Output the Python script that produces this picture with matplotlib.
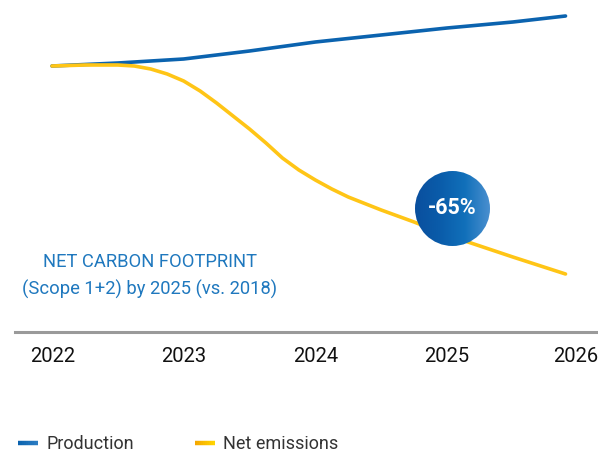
import numpy as np
import matplotlib
matplotlib.use("Agg")
import matplotlib.pyplot as plt
from matplotlib.patches import Circle
from matplotlib.lines import Line2D
from matplotlib.transforms import ScaledTranslation
from matplotlib.colors import LinearSegmentedColormap

# ---- data (index scale) ----
years = [2022, 2023, 2024, 2025, 2026]
year_labels = ["2022", "2023", "2024", "2025", "2026"]

prod_x = [2022, 2022.5, 2023, 2023.5, 2024, 2024.5, 2025, 2025.5, 2025.9]
prod_y = [266, 269, 273, 281, 290, 297, 304, 310, 316]

emis_x = [2022, 2022.25, 2022.5, 2022.625, 2022.75, 2022.875, 2023, 2023.125, 2023.25,
          2023.375, 2023.5, 2023.625, 2023.75, 2023.875, 2024, 2024.125, 2024.25,
          2024.5, 2024.75, 2025, 2025.25, 2025.5, 2025.9]
emis_y = [266, 267, 267, 266, 263, 258, 251, 241, 229, 216, 203, 189, 174, 162, 152,
          143, 135, 122, 110, 97, 86, 75, 58]

badge_text = "-65%"
note_lines = ["NET CARBON FOOTPRINT", "(Scope 1+2) by 2025 (vs. 2018)"]
series_names = ["Production", "Net emissions"]

W, H = 598, 456
plt.rcParams['font.family'] = ['Roboto', 'DejaVu Sans']
fig = plt.figure(figsize=(W / 100, H / 100), dpi=100)

def fx(px):
    return px / W

def fy(py):
    return 1 - py / H

ax_left, ax_right, ax_bottom, ax_top = 15, 596, 333, 0
ax = fig.add_axes([fx(ax_left), fy(ax_bottom), (ax_right - ax_left) / W, (ax_bottom - ax_top) / H])
ppy = 131.67
ax.set_xlim(2022 - (52 - ax_left) / ppy, 2022 + (ax_right - 52) / ppy)
ax.set_ylim(0, ax_bottom - ax_top)

blue = "#0b63af"
yellow = "#ffc516"
ax.plot(prod_x, prod_y, color=blue, lw=2.6, solid_capstyle='round')
ax.plot(emis_x, emis_y, color=yellow, lw=2.6, solid_capstyle='round')

for s in ["top", "right", "left"]:
    ax.spines[s].set_visible(False)
ax.spines["bottom"].set_color("#9a9a9a")
ax.spines["bottom"].set_linewidth(2.2)
ax.set_yticks([])
ax.set_xticks(years)
ax.set_xticklabels(year_labels, fontsize=14.5, fontweight='normal', color="#111111")
ax.tick_params(axis='x', length=0, pad=10)
offsets = [1, 0, 0, 0, -3]
for lab, off in zip(ax.get_xticklabels(), offsets):
    lab.set_transform(lab.get_transform() + ScaledTranslation(off / 100, 0, fig.dpi_scale_trans))

# note text
note_color = "#1f78be"
fig.text(fx(150), fy(262), note_lines[0], ha='center', va='center', fontsize=13.2, color=note_color)
fig.text(fx(150), fy(289), note_lines[1], ha='center', va='center', fontsize=13.2, color=note_color)

# gradient badge
cx, cy, r = 452.5, 209.5, 37.5
bax = fig.add_axes([fx(cx - r), fy(cy + r), 2 * r / W, 2 * r / H])
bax.set_xlim(0, 1)
bax.set_ylim(0, 1)
bax.axis('off')
grad = np.linspace(0, 1, 256).reshape(1, -1)
cmap = LinearSegmentedColormap.from_list("b", ["#0a4f9e", "#0a5caa", "#1170ba", "#4a8fcf"])
im = bax.imshow(grad, extent=[0, 1, 0, 1], cmap=cmap, aspect='auto', interpolation='bicubic')
circ = Circle((0.5, 0.5), 0.5, transform=bax.transAxes, facecolor='none', edgecolor='none')
bax.add_patch(circ)
im.set_clip_path(circ)
bax.text(0.5, 0.52, badge_text, ha='center', va='center', color='white', fontsize=15.5,
         fontweight='bold', transform=bax.transAxes)

# legend (manual)
ly = 444
for x0, col, name in [(18, [blue, "#2a7cc2"], series_names[0]), (195, ["#f5a800", "#ffd400"], series_names[1])]:
    n = 10
    xs = np.linspace(x0, x0 + 20, n + 1)
    c1 = np.array(matplotlib.colors.to_rgb(col[0]))
    c2 = np.array(matplotlib.colors.to_rgb(col[1]))
    for i in range(n):
        t = i / (n - 1)
        fig.add_artist(Line2D([fx(xs[i]), fx(xs[i + 1])], [fy(ly), fy(ly)], color=c1 * (1 - t) + c2 * t,
                              lw=3.2, solid_capstyle='butt', transform=fig.transFigure))
    fig.text(fx(x0 + 28), fy(ly), name, ha='left', va='center', fontsize=13, color="#333333")

fig.savefig("out.png", dpi=100)
